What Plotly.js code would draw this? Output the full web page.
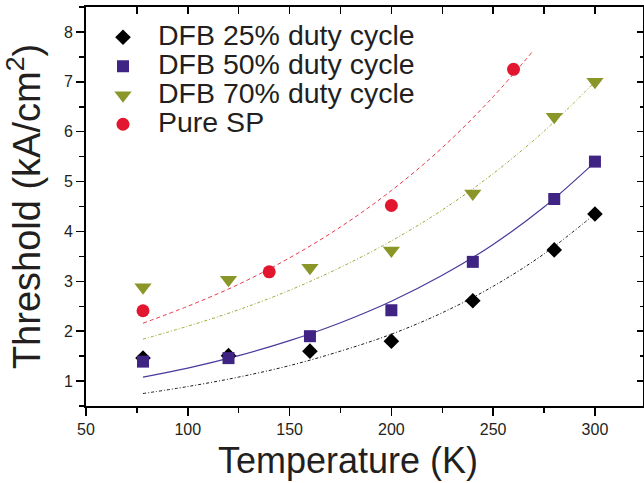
<!DOCTYPE html>
<html>
<head>
<meta charset="utf-8">
<script src="https://cdn.plot.ly/plotly-3.0.1.min.js"></script>
<style>html,body{margin:0;padding:0;background:#fff;}#chart{width:644px;height:483px;}</style>
</head>
<body>
<div id="chart"></div>
<script>
// Measured data
var tempDFB = [78, 120, 160, 200, 240, 280, 300];
var dfb25 = [1.46, 1.51, 1.60, 1.80, 2.61, 3.63, 4.35];
var dfb50 = [1.39, 1.46, 1.90, 2.42, 3.39, 4.65, 5.40];
var dfb70 = [2.88, 3.03, 3.27, 3.62, 4.76, 6.30, 7.00];
var tempSP = [78, 140, 200, 260];
var pureSP = [2.41, 3.19, 4.52, 7.25];

// Fit curves
var fitT = [78, 100, 125, 150, 175, 200, 225, 250, 275, 300];
var fit25 = [0.75, 0.89, 1.08, 1.31, 1.60, 1.94, 2.37, 2.90, 3.55, 4.35];
var fit50 = [1.08, 1.26, 1.51, 1.81, 2.17, 2.60, 3.12, 3.74, 4.49, 5.39];
var fit70 = [1.84, 2.10, 2.43, 2.82, 3.28, 3.81, 4.43, 5.16, 6.01, 7.00];
var fitTSP = [78, 100, 125, 150, 175, 200, 225, 250, 269];
var fitSP = [2.16, 2.50, 2.94, 3.47, 4.09, 4.82, 5.68, 6.70, 7.59];

var seriesNames = ['DFB 25% duty cycle', 'DFB 50% duty cycle', 'DFB 70% duty cycle', 'Pure SP'];
var xTitle = 'Temperature (K)';
var yTitle = 'Threshold (kA/cm<sup>2</sup>)';

var FONT = 'Liberation Sans, Arial, sans-serif';
var cBlack = '#000000', cPurple = '#3f2483', cOlive = '#8b9629', cRed = '#e2172f';

function lbl(s) { return '<span style="font-size:28.5px">' + s + '</span>'; }

var traces = [
  {x: fitT, y: fit25, mode: 'lines', line: {color: '#1a1a1a', width: 1, dash: '3px,2px,1px,2px', shape: 'spline'}, showlegend: false, hoverinfo: 'skip'},
  {x: fitT, y: fit50, mode: 'lines', line: {color: '#4a3a9c', width: 1.2, shape: 'spline'}, showlegend: false, hoverinfo: 'skip'},
  {x: fitT, y: fit70, mode: 'lines', line: {color: '#a3a83a', width: 1, dash: '3px,2px,1px,2px', shape: 'spline'}, showlegend: false, hoverinfo: 'skip'},
  {x: fitTSP, y: fitSP, mode: 'lines', line: {color: '#e8394d', width: 1, dash: '4px,3px', shape: 'spline'}, showlegend: false, hoverinfo: 'skip'},
  {x: tempDFB, y: dfb25, name: lbl(seriesNames[0]), mode: 'markers', marker: {symbol: 'diamond', size: 12, color: cBlack}},
  {x: tempDFB, y: dfb50, name: lbl(seriesNames[1]), mode: 'markers', marker: {symbol: 'square', size: 12, color: cPurple}},
  {x: tempDFB, y: dfb70, name: lbl(seriesNames[2]), mode: 'markers', marker: {symbol: 'triangle-down', size: 15, color: cOlive}},
  {x: tempSP, y: pureSP, name: lbl(seriesNames[3]), mode: 'markers', marker: {symbol: 'circle', size: 13, color: cRed}}
];

var xr = [50, 323.6], yr = [0.5, 8.5];
var layout = {
  width: 644, height: 483,
  margin: {l: 86, r: 1, t: 7, b: 77, pad: 0},
  paper_bgcolor: '#fff', plot_bgcolor: '#fff',
  font: {family: FONT, color: '#231f20'},
  showlegend: true,
  legend: {x: 0.0036, y: 0.973, xanchor: 'left', yanchor: 'top', bgcolor: 'rgba(0,0,0,0)', borderwidth: 0,
           itemwidth: 60, font: {family: FONT, size: 20, color: '#231f20'}, tracegroupgap: 0},
  xaxis: {range: xr, showgrid: false, zeroline: false, showline: true, linecolor: '#000', linewidth: 2,
          ticks: 'outside', ticklen: 8, tickwidth: 1.5, tickcolor: '#000', dtick: 50, tick0: 50,
          minor: {ticks: 'outside', ticklen: 5, tickwidth: 1.5, tickcolor: '#000', dtick: 25},
          tickfont: {size: 16, color: '#231f20'}},
  yaxis: {range: yr, showgrid: false, zeroline: false, showline: true, linecolor: '#000', linewidth: 2,
          ticks: 'outside', ticklen: 8, tickwidth: 1.5, tickcolor: '#000', dtick: 1, tick0: 0,
          minor: {ticks: 'outside', ticklen: 5, tickwidth: 1.5, tickcolor: '#000', dtick: 0.5},
          tickfont: {size: 16, color: '#231f20'},
          title: {text: yTitle, font: {size: 38, color: '#231f20'}, standoff: 16}},
  xaxis2: {range: xr, overlaying: 'x', side: 'top', showgrid: false, zeroline: false, showline: true,
           linecolor: '#000', linewidth: 2, ticks: 'inside', ticklen: 7, tickwidth: 1.5, tickcolor: '#000',
           dtick: 25, tick0: 50, showticklabels: false},
  yaxis2: {range: yr, overlaying: 'y', side: 'right', showgrid: false, zeroline: false, showline: true,
           linecolor: '#000', linewidth: 2, ticks: 'inside', ticklen: 6, tickwidth: 1.5, tickcolor: '#000',
           dtick: 1, tick0: 0, showticklabels: false,
           minor: {ticks: 'inside', ticklen: 3, tickwidth: 1.5, tickcolor: '#000', dtick: 0.5}},
  annotations: [
    {text: xTitle, xref: 'paper', yref: 'paper', x: 0.470, y: -0.1378, xanchor: 'center', yanchor: 'middle',
     showarrow: false, font: {family: FONT, size: 36, color: '#231f20'}}
  ]
};

// dummy trace to activate secondary axes
traces.push({x: [xr[0]], y: [yr[0]], xaxis: 'x2', yaxis: 'y2', mode: 'markers', marker: {opacity: 0}, showlegend: false, hoverinfo: 'skip'});

Plotly.newPlot('chart', traces, layout, {staticPlot: true});
</script>
</body>
</html>
